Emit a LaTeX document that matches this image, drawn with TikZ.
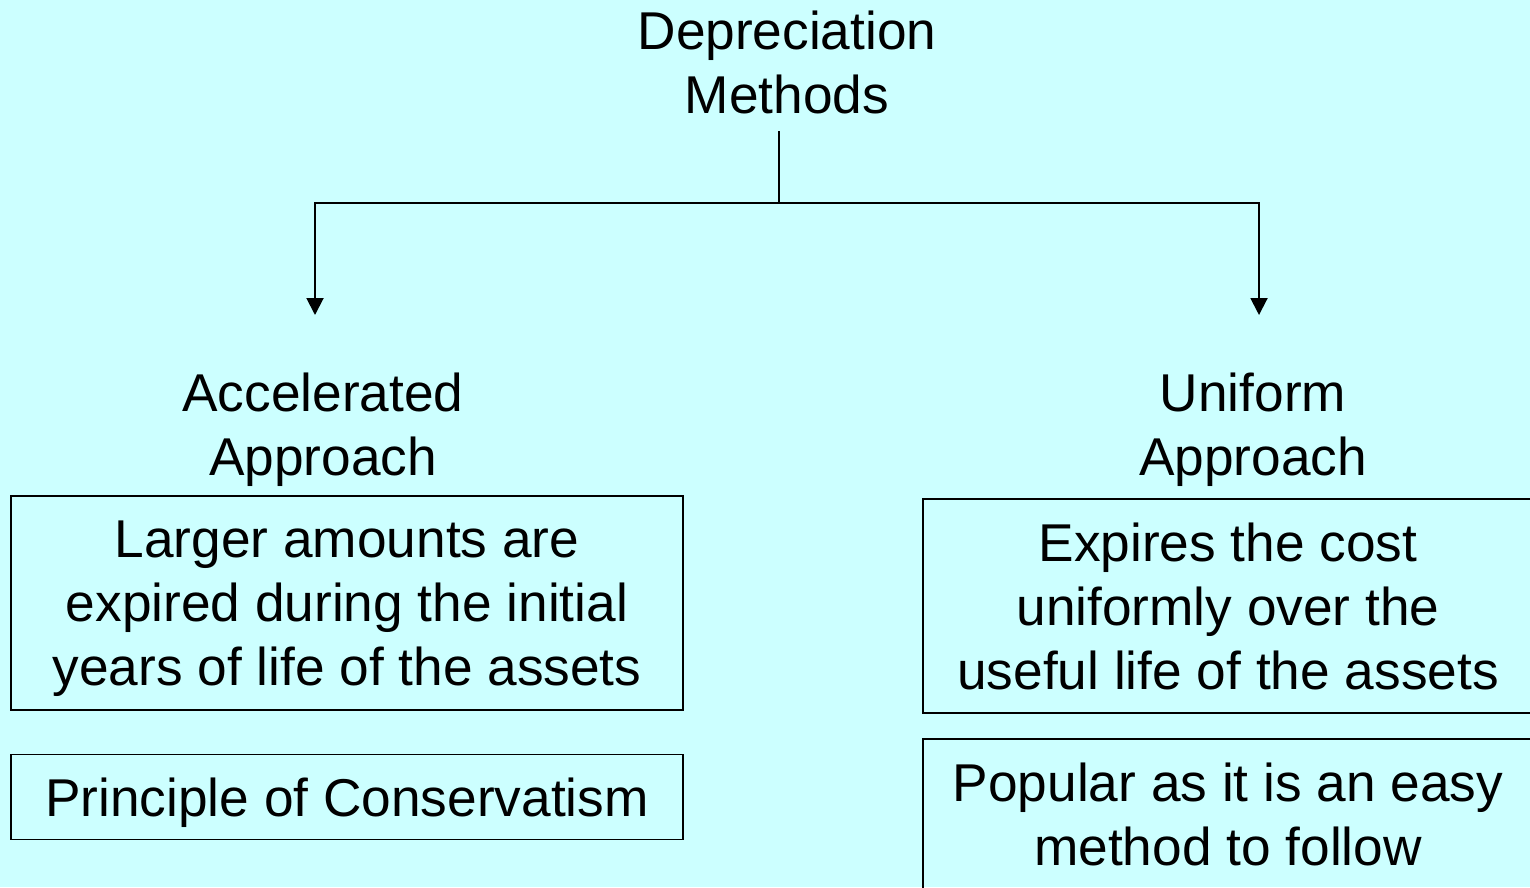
\documentclass[tikz,border=0pt]{standalone}
\usepackage{fontspec}
\setmainfont{Liberation Sans}
\usetikzlibrary{arrows.meta}
\definecolor{slidebg}{HTML}{CCFFFF}
\begin{document}
\begin{tikzpicture}[
  x=0.02cm, y=-0.02cm,
  txt/.style={align=center, inner sep=0pt, text depth=0pt, font=\fontsize{30.3}{36.4}\selectfont},
  box/.style={txt, draw, line width=1.1pt},
  conn/.style={line width=1.1pt},
  arrow/.style={conn, -{Triangle[width=0.34cm,length=0.34cm]}}
]
\fill[slidebg] (0,0) rectangle (1530,887);
\useasboundingbox (0,0) rectangle (1530,887);
\node[txt, outer sep=0.36cm] (root) at (787,62) {Depreciation\\Methods};
\node[txt] (acc) at (323,424) {Accelerated\\Approach};
\node[txt] (uni) at (1253,424) {Uniform\\Approach};
\node[box, minimum width=13.44cm, minimum height=4.28cm] (accA) at (347,603) {Larger amounts are\\expired during the initial\\years of life of the assets};
\node[box, minimum width=13.44cm, minimum height=1.7cm] (accB) at (347,797) {Principle of Conservatism};
\node[box, minimum width=12.2cm, minimum height=4.28cm] (uniA) at (1228,606) {Expires the cost\\uniformly over the\\useful life of the assets};
\node[box, minimum width=12.2cm, minimum height=3cm] (uniB) at (1228,814) {Popular as it is an easy\\method to follow};
\coordinate (split) at (779,203);
\coordinate (accTip) at (315,315);
\coordinate (uniTip) at (1259,315);
\draw[conn] (root.south -| split) -- (split);
\draw[arrow] (split) -| (accTip);
\draw[arrow] (split) -| (uniTip);
\end{tikzpicture}
\end{document}
